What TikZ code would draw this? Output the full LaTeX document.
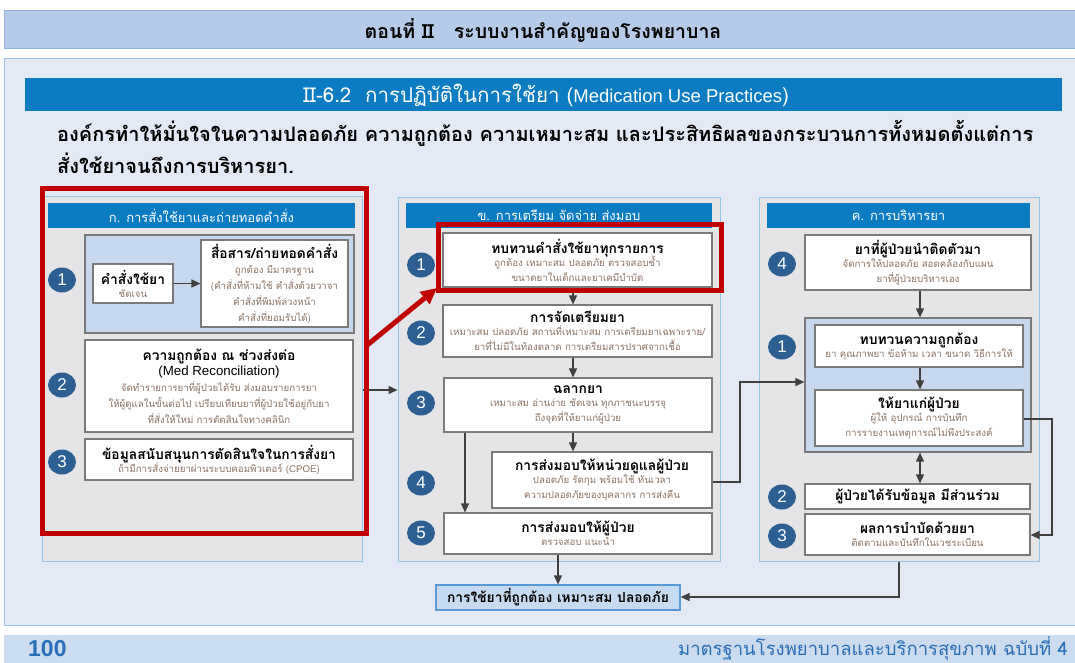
\documentclass[tikz,border=0pt]{standalone}
\usepackage{fontspec}
\setmainfont[Script=Thai]{Loma}
\newfontfamily\arial{Liberation Sans}
\usetikzlibrary{arrows.meta,shapes.geometric}
\definecolor{hdrfill}{HTML}{B6CBE9}
\definecolor{hdrbord}{HTML}{92B4DC}
\definecolor{mainfill}{HTML}{E3EAF6}
\definecolor{mainbord}{HTML}{9CC3E6}
\definecolor{tblue}{HTML}{0B7BC2}
\definecolor{pgray}{HTML}{E5E5E7}
\definecolor{pbord}{HTML}{94C4E8}
\definecolor{sblue}{HTML}{C7D8EE}
\definecolor{bgray}{HTML}{7A7A7A}
\definecolor{cblue}{HTML}{2D5F93}
\definecolor{dtext}{HTML}{8A7262}
\definecolor{redc}{HTML}{C00000}
\definecolor{ffill}{HTML}{C6DBF0}
\definecolor{fbord}{HTML}{5A9BD5}
\definecolor{foot}{HTML}{CBDCF0}
\definecolor{foottxt}{HTML}{2A6EB8}
\definecolor{lgray}{HTML}{404040}
\newcommand{\ttl}[1]{{\bfseries\fontsize{13.8}{16}\selectfont #1}}
\newcommand{\dsc}[1]{{\color{dtext}#1}}
\tikzset{
  panel/.style={draw=pbord, fill=pgray, line width=1pt, inner sep=0},
  hdr/.style={fill=tblue, text=white, inner sep=0, font=\fontsize{13}{14}\selectfont},
  box/.style={draw=bgray, fill=white, line width=1.2pt, align=center, inner sep=0, font=\fontsize{9.7}{16}\selectfont},
  subp/.style={draw=bgray, fill=sblue, line width=1.2pt, inner sep=0},
  num/.style={ellipse, fill=cblue, text=white, minimum width=28pt, minimum height=25pt, inner sep=0, font=\arial\fontsize{17}{17}\selectfont},
  arr/.style={draw=lgray, line width=1.3pt, -{Triangle[length=9pt,width=8pt]}},
  darr/.style={draw=lgray, line width=1.3pt, {Triangle[length=9pt,width=8pt]}-{Triangle[length=9pt,width=8pt]}},
  redbox/.style={draw=redc, line width=5pt},
  redarr/.style={draw=redc, line width=5pt, -{Triangle[length=16pt,width=15pt]}},
}
\begin{document}
\begin{tikzpicture}[x=1pt,y=-1pt]
\useasboundingbox (0,0) rectangle (1075,662);
\clip (0,0) rectangle (1075,662);
\fill[white] (0,0) rectangle (1075,662);
% top header
\node[draw=hdrbord, fill=hdrfill, line width=1pt, minimum width=1075pt, minimum height=38pt, inner sep=0] (topbar) at (541.5,29) {};
\node[font=\bfseries\fontsize{19.5}{20}\selectfont] (toptxt) at (543,30) {ตอนที่ II \ \ ระบบงานสำคัญของโรงพยาบาล};
% main panel
\node[draw=mainbord, fill=mainfill, line width=1pt, minimum width=1075pt, minimum height=567pt, inner sep=0] (main) at (541.5,341.5) {};
\node[fill=tblue, minimum width=1037pt, minimum height=33pt, inner sep=0] (titlebar) at (543.5,94.5) {};
\node[text=white, font=\fontsize{20.5}{22}\selectfont] (titletxt) at (546,95) {II-6.2\ \ การปฏิบัติในการใช้ยา ({\arial\fontsize{18.5}{19}\selectfont Medication Use Practices})};
\node[anchor=west, font=\bfseries\fontsize{20}{22}\selectfont, inner sep=0] (intro1) at (57,133) {องค์กรทำให้มั่นใจในความปลอดภัย ความถูกต้อง ความเหมาะสม และประสิทธิผลของกระบวนการทั้งหมดตั้งแต่การ};
\node[anchor=west, font=\bfseries\fontsize{20}{22}\selectfont, inner sep=0] (intro2) at (57,163) {สั่งใช้ยาจนถึงการบริหารยา.};
% footer
\node[fill=foot, minimum width=1075pt, minimum height=28pt, inner sep=0] (footer) at (541.5,649) {};
\node[text=foottxt, font=\arial\bfseries\fontsize{23}{24}\selectfont, anchor=west, inner sep=0] (pageno) at (28,649) {100};
\node[text=foottxt, font=\fontsize{18.5}{20}\selectfont, anchor=base east, inner sep=0] (foottext) at (1068,655) {มาตรฐานโรงพยาบาลและบริการสุขภาพ ฉบับที่ 4};

% ===== Left column =====
\node[panel, minimum width=320pt, minimum height=365pt] (lpanel) at (202,378.5) {};
\node[hdr, minimum width=307pt, minimum height=25pt] (lhdr) at (201.5,215.5) {ก. การสั่งใช้ยาและถ่ายทอดคำสั่ง};
\node[subp, minimum width=269pt, minimum height=98pt] (lsub) at (219.5,284) {};
\node[box, minimum width=80pt, minimum height=39pt] (lorder) at (133,283.5) {\ttl{คำสั่งใช้ยา}\\[-3pt]\dsc{ชัดเจน}};
\node[box, minimum width=147pt, minimum height=87pt] (lcomm) at (274.5,283.5) {\ttl{สื่อสาร/ถ่ายทอดคำสั่ง}\\[-1pt]\dsc{ถูกต้อง มีมาตรฐาน}\\\dsc{(คำสั่งที่ห้ามใช้ คำสั่งด้วยวาจา}\\\dsc{คำสั่งที่พิมพ์ล่วงหน้า}\\\dsc{คำสั่งที่ยอมรับได้)}};
\node[box, minimum width=268pt, minimum height=92pt] (l2) at (219,386) {\ttl{ความถูกต้อง ณ ช่วงส่งต่อ}\\[-1pt]{\arial\fontsize{13.3}{14}\selectfont (Med Reconciliation)}\\\dsc{จัดทำรายการยาที่ผู้ป่วยได้รับ ส่งมอบรายการยา}\\\dsc{ให้ผู้ดูแลในขั้นต่อไป เปรียบเทียบยาที่ผู้ป่วยใช้อยู่กับยา}\\\dsc{ที่สั่งให้ใหม่ การตัดสินใจทางคลินิก}};
\node[box, minimum width=268pt, minimum height=41pt] (l3) at (219,459.5) {\ttl{ข้อมูลสนับสนุนการตัดสินใจในการสั่งยา}\\[-3pt]\dsc{ถ้ามีการสั่งจ่ายยาผ่านระบบคอมพิวเตอร์ ({\arial CPOE})}};
\node[num] (ln1) at (62,280) {1};
\node[num] (ln2) at (62,385) {2};
\node[num] (ln3) at (62,462) {3};
\draw[arr] (lorder) -- (lcomm);

% ===== Middle column =====
\node[panel, minimum width=322pt, minimum height=364pt] (mpanel) at (559,379) {};
\node[hdr, minimum width=306pt, minimum height=25pt] (mhdr) at (559,215.5) {ข. การเตรียม จัดจ่าย ส่งมอบ};
\node[box, minimum width=269pt, minimum height=54pt] (m1) at (577.5,260) {\ttl{ทบทวนคำสั่งใช้ยาทุกรายการ}\\[-3pt]\dsc{ถูกต้อง เหมาะสม ปลอดภัย ตรวจสอบซ้ำ}\\[-1pt]\dsc{ขนาดยาในเด็กและยาเคมีบำบัด}};
\node[box, minimum width=269pt, minimum height=52pt] (m2) at (577.5,331) {\ttl{การจัดเตรียมยา}\\[-3pt]\dsc{เหมาะสม ปลอดภัย สถานที่เหมาะสม การเตรียมยาเฉพาะราย/}\\[-1pt]\dsc{ยาที่ไม่มีในท้องตลาด การเตรียมสารปราศจากเชื้อ}};
\node[box, minimum width=268pt, minimum height=54pt] (m3) at (578,405) {\ttl{ฉลากยา}\\[-3pt]\dsc{เหมาะสม อ่านง่าย ชัดเจน ทุกภาชนะบรรจุ}\\[-1pt]\dsc{ถึงจุดที่ให้ยาแก่ผู้ป่วย}};
\node[box, minimum width=220pt, minimum height=56pt] (m4) at (602,480) {\ttl{การส่งมอบให้หน่วยดูแลผู้ป่วย}\\[-3pt]\dsc{ปลอดภัย รัดกุม พร้อมใช้ ทันเวลา}\\[-1pt]\dsc{ความปลอดภัยของบุคลากร การส่งคืน}};
\node[box, minimum width=268pt, minimum height=41pt] (m5) at (578,533.5) {\ttl{การส่งมอบให้ผู้ป่วย}\\[-3pt]\dsc{ตรวจสอบ แนะนำ}};
\node[num] (mn1) at (421,265) {1};
\node[num] (mn2) at (421,333) {2};
\node[num] (mn3) at (421,403) {3};
\node[num] (mn4) at (421,483) {4};
\node[num] (mn5) at (421,533) {5};
\node[draw=fbord, fill=ffill, line width=1.2pt, minimum width=244pt, minimum height=25pt, inner sep=0] (final) at (558,597.5) {\ttl{การใช้ยาที่ถูกต้อง เหมาะสม ปลอดภัย}};
\draw[arr] ([xshift=-4.5pt]m1.south) -- ([xshift=-4.5pt]m2.north);
\draw[arr] ([xshift=-4.5pt]m2.south) -- ([xshift=-5pt]m3.north);
\draw[arr] ([xshift=-5pt]m3.south) -- (m4.north -| {573,0});
\draw[arr] (m3.south -| {465,0}) -- (m5.north -| {465,0});
\draw[arr] (m5.south -| final.north) -- (final.north);
\draw[arr] (lpanel.east |- {0,390}) -- (mpanel.west |- {0,390});

% ===== Right column =====
\node[panel, minimum width=280pt, minimum height=364pt] (rpanel) at (899,379) {};
\node[hdr, minimum width=263pt, minimum height=25pt] (rhdr) at (898.5,215.5) {ค. การบริหารยา};
\node[box, minimum width=226pt, minimum height=55pt] (r4) at (918,262.5) {\ttl{ยาที่ผู้ป่วยนำติดตัวมา}\\[-3pt]\dsc{จัดการให้ปลอดภัย สอดคล้องกับแผน}\\[-1pt]\dsc{ยาที่ผู้ป่วยบริหารเอง}};
\node[subp, minimum width=226pt, minimum height=134pt] (rsub) at (918,385) {};
\node[box, minimum width=208pt, minimum height=42pt] (r1) at (919,346) {\ttl{ทบทวนความถูกต้อง}\\[-3pt]\dsc{ยา คุณภาพยา ข้อห้าม เวลา ขนาด วิธีการให้}};
\node[box, minimum width=208pt, minimum height=56pt] (rgive) at (919,418) {\ttl{ให้ยาแก่ผู้ป่วย}\\[-3pt]\dsc{ผู้ให้ อุปกรณ์ การบันทึก}\\[-1pt]\dsc{การรายงานเหตุการณ์ไม่พึงประสงค์}};
\node[box, minimum width=225pt, minimum height=25pt] (r2) at (917.5,496.5) {\ttl{ผู้ป่วยได้รับข้อมูล มีส่วนร่วม}};
\node[box, minimum width=225pt, minimum height=41pt] (r3) at (917.5,534.5) {\ttl{ผลการบำบัดด้วยยา}\\[-3pt]\dsc{ติดตามและบันทึกในเวชระเบียน}};
\node[num] (rn4) at (782,264) {4};
\node[num] (rn1) at (782,347) {1};
\node[num] (rn2) at (782,497) {2};
\node[num] (rn3) at (782,536) {3};
\draw[arr] (r4.south -| {920,0}) -- (rsub.north -| {920,0});
\draw[arr] (r1.south -| {920,0}) -- (rgive.north -| {920,0});
\draw[darr] (rsub.south -| {920,0}) -- (r2.north -| {920,0});
\coordinate (c1) at (740,482);
\draw[arr] (m4.east |- c1) -- (c1) -- (740,382) -- (rsub.west |- {0,382});
\coordinate (c2) at (1052,419);
\draw[arr] (rgive.east |- c2) -- (c2) -- (1052,535) -- (r3.east |- {0,535});
\coordinate (c3) at (899,597);
\draw[arr] (rpanel.south -| c3) -- (c3) -- (final.east |- c3);

% ===== red highlights =====
\draw[redbox] (42,188) rectangle (366,533);
\draw[redbox] (438,224) rectangle (721,290);
\coordinate (rs) at (366,346);
\coordinate (re) at (437,288);
\draw[redarr] (rs) -- (re);
\end{tikzpicture}
\end{document}
